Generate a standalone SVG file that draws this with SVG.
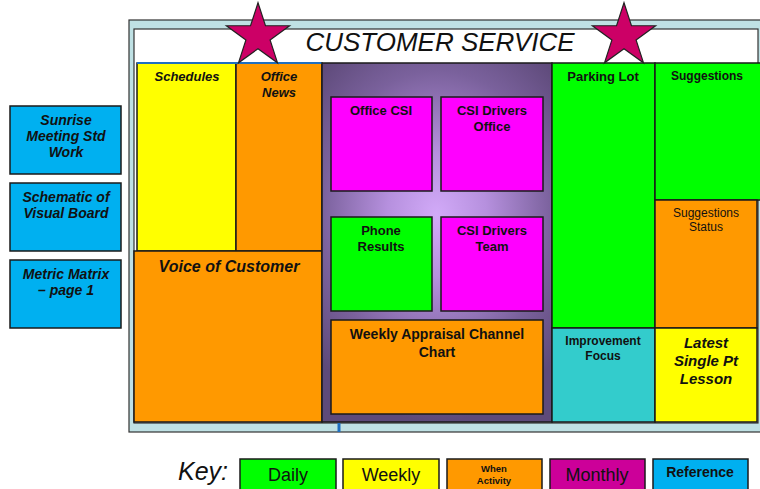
<svg xmlns="http://www.w3.org/2000/svg" width="760" height="489" viewBox="0 0 760 489">
  <defs>
    <radialGradient id="glow" gradientUnits="userSpaceOnUse" cx="437" cy="215" r="165" gradientTransform="translate(437 215) scale(1 1.25) translate(-437 -215)">
      <stop offset="0" stop-color="#d2aaf8"/>
      <stop offset="0.3" stop-color="#b690de"/>
      <stop offset="0.7" stop-color="#7a619c"/>
      <stop offset="1" stop-color="#5e4a7a"/>
    </radialGradient>
    <polygon id="star" points="0,-33.2 7.46,-10.27 31.57,-10.26 12.08,3.92 19.51,26.86 0,12.7 -19.51,26.86 -12.08,3.92 -31.57,-10.26 -7.46,-10.27"/>
  </defs>
  <style>
    .box { stroke: #1a1a1a; stroke-width: 1.5; }
    .green { fill: #00ff00; }
    .yellow { fill: #ffff00; }
    .orange { fill: #ff9900; }
    .magenta { fill: #ff00ff; }
    .teal { fill: #33cccc; }
    .blue { fill: #00b0f0; }
    .plum { fill: #cc0099; }
    .lbl { font-family: "Liberation Sans", Arial, sans-serif; font-weight: bold; font-size: 13px; fill: #111; text-anchor: middle; }
    .it { font-style: italic; }
    .reg { font-weight: normal; }
    .card { font-size: 14px; }
    .starshape { fill: #cc0066; stroke: #222; stroke-width: 1.2; }
  </style>

  <rect width="760" height="489" fill="#ffffff"/>

  <!-- board frame -->
  <g id="frame">
    <rect x="129" y="20" width="640" height="412" fill="#bfe1e4" stroke="#333" stroke-width="1.2"/>
    <rect x="134" y="29" width="624" height="394" fill="#ffffff" stroke="#333" stroke-width="1.2"/>
    <text x="440" y="51" font-family="'Liberation Sans', Arial, sans-serif" font-style="italic" font-size="26" fill="#111" text-anchor="middle">CUSTOMER SERVICE</text>
  </g>

  <!-- left column -->
  <g id="schedules">
    <rect class="box yellow" x="137" y="63" width="99" height="188"/>
    <text class="lbl it" x="187" y="81">Schedules</text>
  </g>
  <g id="office-news">
    <rect class="box orange" x="236" y="63" width="86" height="188"/>
    <text class="lbl it" x="279" y="81">Office</text>
    <text class="lbl it" x="279" y="97">News</text>
  </g>
  <line x1="137" y1="63" x2="322" y2="63" stroke="#1f6fc0" stroke-width="2"/>
  <g id="voice-of-customer">
    <rect class="box orange" x="134" y="251" width="188" height="171"/>
    <text class="lbl it" x="229" y="272" style="font-size:16px">Voice of Customer</text>
  </g>

  <!-- centre panel -->
  <g id="centre-panel">
    <rect x="322" y="63" width="230" height="359" fill="url(#glow)" stroke="#1a1a1a" stroke-width="1.5"/>
  </g>
  <g id="office-csi">
    <rect class="box magenta" x="331" y="97" width="101" height="94"/>
    <text class="lbl" x="381" y="115">Office CSI</text>
  </g>
  <g id="csi-drivers-office">
    <rect class="box magenta" x="441" y="97" width="102" height="94"/>
    <text class="lbl" x="492" y="115">CSI Drivers</text>
    <text class="lbl" x="492" y="131">Office</text>
  </g>
  <g id="phone-results">
    <rect class="box green" x="331" y="217" width="101" height="94"/>
    <text class="lbl" x="381" y="235">Phone</text>
    <text class="lbl" x="381" y="251">Results</text>
  </g>
  <g id="csi-drivers-team">
    <rect class="box magenta" x="441" y="217" width="102" height="94"/>
    <text class="lbl" x="492" y="235">CSI Drivers</text>
    <text class="lbl" x="492" y="251">Team</text>
  </g>
  <g id="weekly-appraisal">
    <rect class="box orange" x="331" y="320" width="212" height="94"/>
    <text class="lbl" x="437" y="339" style="font-size:14px">Weekly Appraisal Channel</text>
    <text class="lbl" x="437" y="357" style="font-size:14px">Chart</text>
  </g>

  <!-- right columns -->
  <g id="parking-lot">
    <rect class="box green" x="552" y="63" width="103" height="265"/>
    <text class="lbl" x="603" y="81">Parking Lot</text>
  </g>
  <g id="suggestions">
    <rect class="box green" x="655" y="63" width="108" height="137"/>
    <text class="lbl" x="707" y="80" style="font-size:12px">Suggestions</text>
  </g>
  <g id="suggestions-status">
    <rect class="box orange" x="655" y="200" width="102" height="128"/>
    <text class="lbl reg" x="706" y="217" style="font-size:12px">Suggestions</text>
    <text class="lbl reg" x="706" y="231" style="font-size:12px">Status</text>
  </g>
  <g id="improvement-focus">
    <rect class="box teal" x="552" y="328" width="103" height="94"/>
    <text class="lbl" x="603" y="345" style="font-size:12px">Improvement</text>
    <text class="lbl" x="603" y="360" style="font-size:12px">Focus</text>
  </g>
  <g id="single-point-lesson">
    <rect class="box yellow" x="655" y="328" width="102" height="94"/>
    <text class="lbl it" x="706" y="348" style="font-size:15px">Latest</text>
    <text class="lbl it" x="706" y="366" style="font-size:15px">Single Pt</text>
    <text class="lbl it" x="706" y="384" style="font-size:15px">Lesson</text>
  </g>
  <line x1="339" y1="423" x2="339" y2="432" stroke="#1f6fc0" stroke-width="3"/>

  <!-- stars -->
  <g id="star-left"><use href="#star" class="starshape" transform="translate(258 36)"/></g>
  <g id="star-right"><use href="#star" class="starshape" transform="translate(624 36)"/></g>

  <!-- reference cards -->
  <g id="sunrise-meeting">
    <rect class="box blue" x="10" y="106" width="111" height="68"/>
    <text class="lbl it card" x="66" y="125">Sunrise</text>
    <text class="lbl it card" x="66" y="141">Meeting Std</text>
    <text class="lbl it card" x="66" y="157">Work</text>
  </g>
  <g id="schematic">
    <rect class="box blue" x="10" y="183" width="111" height="68"/>
    <text class="lbl it card" x="66" y="202">Schematic of</text>
    <text class="lbl it card" x="66" y="218">Visual Board</text>
  </g>
  <g id="metric-matrix">
    <rect class="box blue" x="10" y="260" width="111" height="68"/>
    <text class="lbl it card" x="66" y="279">Metric Matrix</text>
    <text class="lbl it card" x="66" y="295">– page 1</text>
  </g>

  <!-- key -->
  <g id="key">
    <text x="178" y="480" font-family="'Liberation Sans', Arial, sans-serif" font-style="italic" font-size="25" fill="#111">Key:</text>
  </g>
  <g id="key-daily">
    <rect class="box green" x="240" y="459" width="96" height="34"/>
    <text class="lbl reg" x="288" y="481" style="font-size:18px">Daily</text>
  </g>
  <g id="key-weekly">
    <rect class="box yellow" x="343" y="459" width="96" height="34"/>
    <text class="lbl reg" x="391" y="481" style="font-size:18px">Weekly</text>
  </g>
  <g id="key-when-activity">
    <rect class="box orange" x="447" y="459" width="95" height="34"/>
    <text class="lbl" x="494" y="472" style="font-size:9.5px">When</text>
    <text class="lbl" x="494" y="484" style="font-size:9.5px">Activity</text>
  </g>
  <g id="key-monthly">
    <rect class="box plum" x="550" y="459" width="95" height="34"/>
    <text class="lbl reg" x="597" y="481" style="font-size:18px">Monthly</text>
  </g>
  <g id="key-reference">
    <rect class="box blue" x="653" y="459" width="95" height="34"/>
    <text class="lbl" x="700" y="477" style="font-size:14px">Reference</text>
  </g>
</svg>
